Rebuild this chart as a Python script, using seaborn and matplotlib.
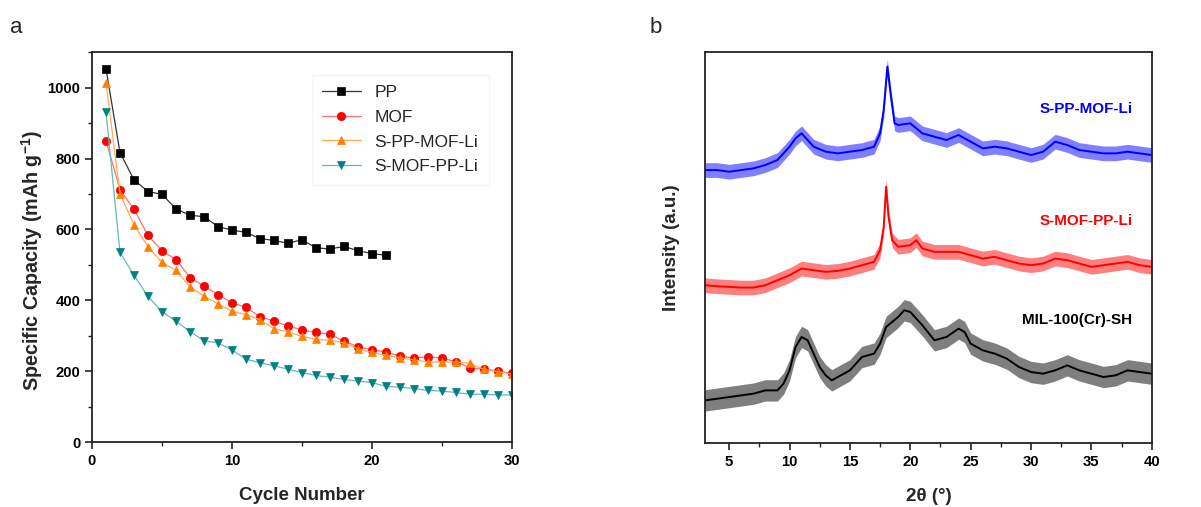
import numpy as np
import pandas as pd
import matplotlib
matplotlib.use("Agg")
import matplotlib.pyplot as plt
from matplotlib.ticker import MultipleLocator
import seaborn as sns

# ---- panel a: cycling data ----
cycles = list(range(1, 31))
pp_cycles = list(range(1, 22))
pp_cap = [1053, 817, 740, 707, 699, 658, 640, 636, 608, 598, 592, 574, 569,
          561, 571, 548, 545, 552, 540, 532, 527]
mof_cap = [850, 712, 657, 583, 540, 515, 464, 440, 416, 393, 380, 354, 341,
           328, 316, 310, 304, 285, 269, 261, 254, 243, 237, 241, 237, 227,
           209, 206, 201, 194]
sppmof_cap = [1014, 701, 613, 551, 507, 485, 438, 412, 390, 369, 360, 345,
              320, 311, 298, 290, 287, 280, 263, 253, 245, 238, 232, 226, 226,
              226, 222, 205, 199, 192]
smofpp_cap = [931, 535, 471, 411, 368, 341, 312, 286, 280, 260, 234, 224,
              215, 206, 196, 188, 183, 177, 172, 168, 157, 155, 151, 146, 144,
              140, 135, 135, 133, 133]

# ---- panel b: XRD traces (arbitrary units, offset stacked) ----
blue_x = [3, 4, 5, 6, 7, 8, 9, 10, 10.5, 11, 11.5, 12, 13, 14, 15, 16, 17,
          17.5, 17.8, 18.1, 18.4, 18.7, 19, 20, 21, 22, 23, 24, 25, 26, 27,
          28, 29, 30, 31, 32, 33, 34, 35, 36, 37, 38, 39, 40]
blue_y = [818, 818, 813, 818, 823, 833, 848, 888, 913, 928, 908, 888, 873,
          868, 873, 878, 888, 928, 998, 1128, 1038, 958, 953, 958, 928, 918,
          908, 923, 903, 883, 888, 883, 873, 863, 873, 903, 893, 878, 873,
          868, 868, 873, 868, 863]
red_x = [3, 4, 5, 6, 7, 8, 9, 10, 11, 12, 13, 14, 15, 16, 17, 17.5, 17.8,
         18.0, 18.2, 18.5, 19, 20, 20.5, 21, 22, 23, 24, 25, 26, 27, 28, 29,
         30, 31, 32, 33, 34, 35, 36, 37, 38, 39, 40]
red_y = [473, 470, 468, 466, 466, 473, 488, 503, 523, 518, 513, 516, 523, 533,
         543, 578, 648, 768, 678, 608, 588, 593, 608, 583, 573, 573, 573, 563,
         553, 558, 548, 538, 533, 538, 553, 548, 538, 528, 533, 538, 543, 533,
         528]
black_x = [3, 4, 5, 6, 7, 8, 9, 9.5, 10, 10.5, 11, 11.5, 12, 12.5, 13, 13.5,
           14, 15, 16, 17, 17.5, 18, 19, 19.5, 20, 21, 22, 23, 24, 24.5, 25,
           26, 27, 28, 29, 30, 31, 32, 33, 34, 35, 36, 37, 38, 39, 40]
black_y = [128, 133, 138, 143, 148, 158, 158, 178, 218, 288, 318, 308, 268,
           228, 203, 188, 198, 218, 258, 268, 298, 348, 378, 398, 393, 353,
           308, 318, 343, 333, 298, 278, 268, 253, 228, 213, 208, 218, 233,
           218, 208, 198, 203, 218, 213, 208]
noise_halfwidth = {"blue": 22, "red": 22, "black": 32}

sns.set_style("ticks")
plt.rcParams["font.family"] = ["Liberation Sans", "DejaVu Sans"]
plt.rcParams["axes.linewidth"] = 1.3

fig = plt.figure(figsize=(12.01, 5.07), dpi=100)
ax1 = fig.add_axes([0.0766, 0.128, 0.3497, 0.769])
ax2 = fig.add_axes([0.587, 0.126, 0.372, 0.771])

series = [
    ("PP", pp_cycles, pp_cap, "s", "black", "#333333", 5.3),
    ("MOF", cycles, mof_cap, "o", "#ff0000", "#ff7070", 6.0),
    ("S-PP-MOF-Li", cycles, sppmof_cap, "^", "#ff8000", "#ffaa55", 6.3),
    ("S-MOF-PP-Li", cycles, smofpp_cap, "v", "#008080", "#66b8b8", 6.3),
]
for name, xs, ys, mk, mcol, lcol, ms in series:
    sns.lineplot(x=xs, y=ys, ax=ax1, color=lcol, linewidth=0.9,
                 marker=mk, markersize=ms, markerfacecolor=mcol,
                 markeredgecolor=mcol, markeredgewidth=0.5, label=name)

ax1.set_xlim(0, 30)
ax1.set_ylim(0, 1100)
ax1.xaxis.set_major_locator(MultipleLocator(10))
ax1.xaxis.set_minor_locator(MultipleLocator(5))
ax1.yaxis.set_major_locator(MultipleLocator(200))
ax1.yaxis.set_minor_locator(MultipleLocator(100))
ax1.set_xlabel("Cycle Number", fontsize=13.5, fontweight="bold", labelpad=14)
ax1.set_ylabel("Specific Capacity (mAh g$^{\\mathregular{-1}}$)", fontsize=14.2,
               fontweight="bold")
ax1.yaxis.set_label_coords(-0.112, 0.465)
leg = ax1.legend(loc="upper right", bbox_to_anchor=(0.965, 0.965), fontsize=12.5,
                 frameon=True, fancybox=False, edgecolor="#f4f4f4",
                 handlelength=2.2, labelspacing=0.55, borderpad=0.6)

# XRD traces drawn as a noise band around the read centre line
traces = [
    ("S-PP-MOF-Li", blue_x, blue_y, "#0000ff", "blue", 1000),
    ("S-MOF-PP-Li", red_x, red_y, "#ff0000", "red", 666),
    ("MIL-100(Cr)-SH", black_x, black_y, "black", "black", 370),
]
for name, xs, ys, col, key, label_y in traces:
    xs = np.array(xs, dtype=float)
    ys = np.array(ys, dtype=float)
    w = noise_halfwidth[key]
    ax2.fill_between(xs, ys - w, ys + w, color=col, alpha=0.5, linewidth=0)
    sns.lineplot(x=xs, y=ys, ax=ax2, color=col, linewidth=1.4)
    ax2.text(38.4, label_y, name, color=col, fontsize=11, fontweight="bold",
             ha="right", va="center")

ax2.set_xlim(3, 40)
ax2.set_ylim(0, 1171)
ax2.xaxis.set_major_locator(MultipleLocator(5))
ax2.xaxis.set_minor_locator(MultipleLocator(2.5))
ax2.set_yticks([])
ax2.set_xlabel("2θ (°)", fontsize=13.5, fontweight="bold", labelpad=14)
ax2.set_ylabel("Intensity (a.u.)", fontsize=13.5, fontweight="bold", labelpad=18)

for ax in (ax1, ax2):
    for sp in ax.spines.values():
        sp.set_visible(True)
        sp.set_color("#222222")
    ax.tick_params(axis="both", which="major", direction="out", length=5,
                   width=1.2, labelsize=10.7, color="#222222", labelcolor="black")
    ax.tick_params(axis="both", which="minor", direction="out", length=3,
                   width=1.0, color="#222222")
    for lab in ax.get_xticklabels() + ax.get_yticklabels():
        lab.set_fontweight("bold")

fig.text(0.008, 0.935, "a", fontsize=16)
fig.text(0.541, 0.935, "b", fontsize=16)

fig.savefig("out.png", dpi=100)
